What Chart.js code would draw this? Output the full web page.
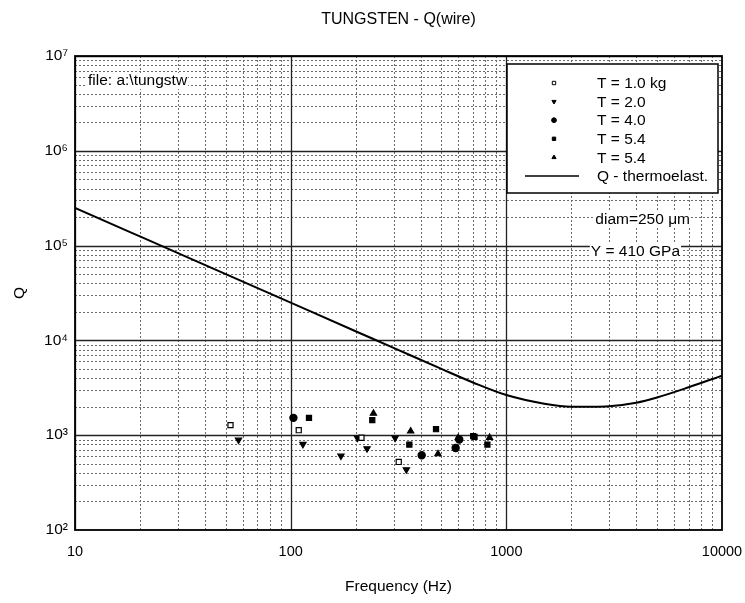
<!DOCTYPE html>
<html><head><meta charset="utf-8">
<script src="https://cdn.jsdelivr.net/npm/chart.js@4/dist/chart.umd.min.js"></script>
<style>html,body{margin:0;padding:0;background:#fff}#wrap{width:745px;height:603px;position:relative}</style>
</head><body><div id="wrap"><canvas id="c"></canvas></div>
<script>
// ---- data ----
const openSquareF = [52.6, 109, 213, 317];
const openSquareQ = [1276, 1129, 940, 522];
const triDownF = [57.3, 114, 171, 204, 226, 305, 344];
const triDownQ = [891, 803, 604, 936, 723, 936, 434];
const circleF = [103, 405, 582, 605];
const circleQ = [1524, 614, 734, 900];
const squareF = [121.6, 239, 355, 472, 702, 712, 817];
const squareQ = [1524, 1441, 797, 1157, 976, 960, 797];
const triUpF = [242, 360, 482, 598, 836];
const triUpQ = [1697, 1102, 634, 936, 945];
const curveF = [10, 20, 50, 100, 200, 300, 500, 700, 1000, 1500, 2000, 2500, 3000, 4000, 5000, 7000, 10000];
const curveQ = [250000, 125000, 50000, 25000, 12500, 8340, 5000, 3600, 2650, 2150, 2000, 2000, 2020, 2200, 2500, 3200, 4250];
const seriesLabels = ['T = 1.0 kg', 'T = 2.0', 'T = 4.0', 'T = 5.4', 'T = 5.4', 'Q - thermoelast.'];
const xTickValues = [10, 100, 1000, 10000];
const xTickLabels = ['10', '100', '1000', '10000'];
const yTickValues = [1e2, 1e3, 1e4, 1e5, 1e6, 1e7];
const yTickLabels = ['10\u00B2', '10\u00B3', '10\u2074', '10\u2075', '10\u2076', '10\u2077'];
const minorMultipliers = [2, 3, 4, 5, 6, 7, 8, 9];
const notes = ['file: a:\\tungstw', 'diam=250 \u03BCm', 'Y = 410 GPa'];

const FONT = "'Liberation Sans', Arial, sans-serif";
const pts = (f, q) => f.map((v, i) => ({x: v, y: q[i]}));

function mkSet(label, f, q, style, fill, rot) {
  return {label, data: pts(f, q), pointStyle: style, pointRotation: rot || 0,
    pointRadius: 3.6, pointHoverRadius: 3.6, pointBorderWidth: 1.2,
    pointBackgroundColor: fill, pointBorderColor: '#000', showLine: false};
}

const datasets = [
  mkSet(seriesLabels[0], openSquareF, openSquareQ, 'rect', '#fff'),
  mkSet(seriesLabels[1], triDownF, triDownQ, 'triangle', '#000', 180),
  mkSet(seriesLabels[2], circleF, circleQ, 'circle', '#000'),
  mkSet(seriesLabels[3], squareF, squareQ, 'rect', '#000'),
  mkSet(seriesLabels[4], triUpF, triUpQ, 'triangle', '#000'),
  {label: seriesLabels[5], data: pts(curveF, curveQ), showLine: true, borderColor: '#000',
   borderWidth: 2, pointRadius: 0, cubicInterpolationMode: 'monotone', fill: false}
];

function decadeLines(min, max) {
  const out = [];
  for (let d = min; d < max; d *= 10) minorMultipliers.forEach(m => out.push(d * m));
  return out;
}

const gridPlugin = {
  id: 'gridPlugin',
  beforeDatasetsDraw(chart) {
    const {ctx, chartArea: a, scales: {x, y}} = chart;
    ctx.save();
    ctx.beginPath(); ctx.rect(a.left, a.top, a.right - a.left, a.bottom - a.top); ctx.clip();
    ctx.lineWidth = 1; ctx.strokeStyle = '#6a6a6a'; ctx.setLineDash([2, 2]);
    decadeLines(10, 10000).forEach(v => {
      const px = Math.round(x.getPixelForValue(v)) + 0.5;
      ctx.beginPath(); ctx.moveTo(px, a.top); ctx.lineTo(px, a.bottom); ctx.stroke();
    });
    decadeLines(100, 1e7).forEach(v => {
      const py = Math.round(y.getPixelForValue(v)) + 0.5;
      ctx.beginPath(); ctx.moveTo(a.left, py); ctx.lineTo(a.right, py); ctx.stroke();
    });
    ctx.setLineDash([]); ctx.strokeStyle = '#222'; ctx.lineWidth = 1.3;
    xTickValues.forEach(v => {
      const px = Math.round(x.getPixelForValue(v)) + 0.5;
      ctx.beginPath(); ctx.moveTo(px, a.top); ctx.lineTo(px, a.bottom); ctx.stroke();
    });
    yTickValues.forEach(v => {
      const py = Math.round(y.getPixelForValue(v)) + 0.5;
      ctx.beginPath(); ctx.moveTo(a.left, py); ctx.lineTo(a.right, py); ctx.stroke();
    });
    ctx.restore();
  },
  afterDatasetsDraw(chart) {
    const {ctx, chartArea: a} = chart;
    ctx.save();
    // frame
    ctx.strokeStyle = '#000'; ctx.lineWidth = 1.8;
    ctx.strokeRect(a.left, a.top, a.right - a.left, a.bottom - a.top);
    // notes with white background
    ctx.font = '15.5px ' + FONT; ctx.textBaseline = 'middle'; ctx.fillStyle = '#000';
    const noteAt = [[a.left + 13, a.top + 25, 'left'], [a.right - 32, a.top + 164, 'right'], [a.right - 42, a.top + 196, 'right']];
    notes.forEach((t, i) => {
      const [nx, ny, al] = noteAt[i];
      const w = ctx.measureText(t).width;
      const bx = al === 'left' ? nx - 1 : nx - w - 1;
      ctx.fillStyle = '#fff'; ctx.fillRect(bx, ny - 8, w + 2, 16);
      ctx.fillStyle = '#000'; ctx.textAlign = al; ctx.fillText(t, nx, ny);
    });
    // legend box
    const lx = 507, ly = 64, lw = 211, lh = 129;
    ctx.fillStyle = '#fff'; ctx.fillRect(lx, ly, lw, lh);
    ctx.strokeStyle = '#000'; ctx.lineWidth = 1.5; ctx.strokeRect(lx, ly, lw, lh);
    ctx.font = '15.5px ' + FONT; ctx.textAlign = 'left';
    chart.data.datasets.forEach((ds, i) => {
      const ry = ly + 19 + i * 18.6;
      if (ds.showLine) {
        ctx.strokeStyle = '#000'; ctx.lineWidth = 1.6;
        ctx.beginPath(); ctx.moveTo(lx + 18, ry); ctx.lineTo(lx + 72, ry); ctx.stroke();
      } else {
        ctx.fillStyle = ds.pointBackgroundColor; ctx.strokeStyle = '#000'; ctx.lineWidth = 1;
        Chart.helpers.drawPoint(ctx, {pointStyle: ds.pointStyle, rotation: ds.pointRotation, radius: 2.4, borderWidth: 1}, lx + 47, ry);
      }
      ctx.fillStyle = '#000';
      ctx.fillText(ds.label, lx + 90, ry + 1);
    });
    ctx.restore();
  }
};

new Chart(document.getElementById('c'), {
  type: 'scatter',
  data: {datasets},
  plugins: [gridPlugin],
  options: {
    responsive: true, maintainAspectRatio: false, animation: false,
    layout: {padding: {left: 0, right: 23, top: 0, bottom: 0}},
    plugins: {
      legend: {display: false}, tooltip: {enabled: false},
      title: {display: true, text: 'TUNGSTEN - Q(wire)', fullSize: false, color: '#000',
        font: {family: FONT, size: 16, weight: 'normal'}, padding: {top: 10.4, bottom: 26.4}}
    },
    scales: {
      x: {
        type: 'logarithmic', min: 10, max: 10000,
        grid: {display: false, drawTicks: false}, border: {display: false},
        afterBuildTicks: s => { s.ticks = xTickValues.map(v => ({value: v})); },
        afterFit: s => { s.height = 73; s.paddingLeft = 0; s.paddingRight = 0; },
        ticks: {color: '#000', font: {family: FONT, size: 14.5}, padding: 13, maxRotation: 0, autoSkip: false,
          callback: (v, i) => xTickLabels[i]},
        title: {display: true, text: 'Frequency (Hz)', color: '#000', font: {family: FONT, size: 15.5}, padding: {top: 0, bottom: 6.7}}
      },
      y: {
        type: 'logarithmic', min: 100, max: 1e7,
        grid: {display: false, drawTicks: false}, border: {display: false},
        afterBuildTicks: s => { s.ticks = yTickValues.map(v => ({value: v})); },
        afterFit: s => { s.width = 75; s.paddingTop = 0; s.paddingBottom = 0; },
        ticks: {color: '#000', font: {family: FONT, size: 15.5}, padding: 7, autoSkip: false,
          callback: (v, i) => yTickLabels[i]},
        title: {display: true, text: 'Q', color: '#000', font: {family: FONT, size: 15.5}, padding: {top: 10.7, bottom: 0}}
      }
    }
  }
});
</script>
</body></html>
